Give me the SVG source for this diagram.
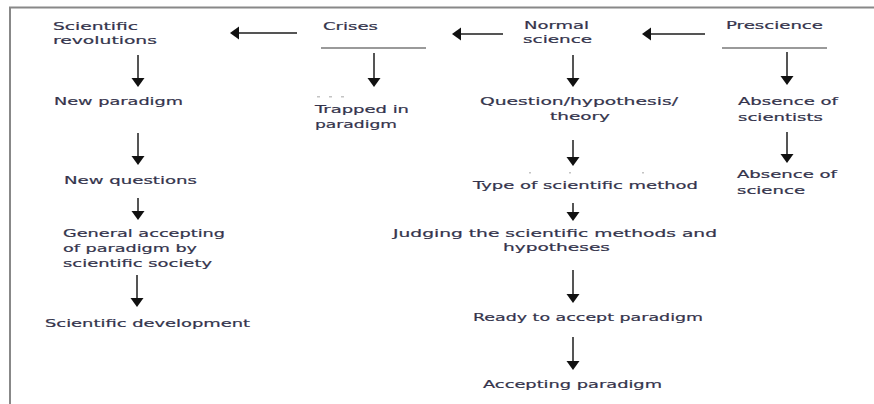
<svg xmlns="http://www.w3.org/2000/svg" width="874" height="404" viewBox="0 0 874 404">
<defs>
<marker id="ah" markerUnits="userSpaceOnUse" markerWidth="12" markerHeight="14" refX="3" refY="7" orient="auto">
<path d="M0,0.5 L9,7 L0,13.5 z" fill="#111"/>
</marker>
<style>
.t{font-family:"DejaVu Sans","Liberation Sans",sans-serif;font-size:11px;fill:#34344c;stroke:#34344c;stroke-width:0.2px}
.c line{stroke:#555;stroke-width:2;marker-end:url(#ah)}
.u{stroke:#9a9a9a;stroke-width:2}
.frame{stroke:#888;stroke-width:2;fill:none}
.dot{fill:#c4c4c4}
</style>
</defs>
<rect width="874" height="404" fill="#fff"/>
<path class="frame" d="M10,404 L10,7.5 L874,7.5"/>

<g id="scientific-revolutions"><text class="t" x="53" y="30" textLength="85" lengthAdjust="spacingAndGlyphs">Scientific</text><text class="t" x="53" y="44" textLength="104" lengthAdjust="spacingAndGlyphs">revolutions</text></g>
<g id="crises"><text class="t" x="323" y="30" textLength="55" lengthAdjust="spacingAndGlyphs">Crises</text><line class="u" x1="321" y1="48" x2="426" y2="48"/></g>
<g id="normal-science"><text class="t" x="524" y="29" textLength="65" lengthAdjust="spacingAndGlyphs">Normal</text><text class="t" x="523" y="43" textLength="69" lengthAdjust="spacingAndGlyphs">science</text></g>
<g id="prescience"><text class="t" x="726" y="29" textLength="97" lengthAdjust="spacingAndGlyphs">Prescience</text><line class="u" x1="722" y1="48" x2="827" y2="48"/></g>

<g id="new-paradigm"><text class="t" x="54" y="105" textLength="129" lengthAdjust="spacingAndGlyphs">New paradigm</text></g>
<g id="trapped"><rect class="dot" x="317" y="96" width="3" height="1.5"/><rect class="dot" x="329" y="96" width="3" height="1.5"/><rect class="dot" x="341" y="96" width="3" height="1.5"/><text class="t" x="315" y="113" textLength="94" lengthAdjust="spacingAndGlyphs">Trapped in</text><text class="t" x="315" y="128" textLength="82" lengthAdjust="spacingAndGlyphs">paradigm</text></g>
<g id="question"><text class="t" x="480" y="105" textLength="198" lengthAdjust="spacingAndGlyphs">Question/hypothesis/</text><text class="t" x="550" y="120" textLength="60" lengthAdjust="spacingAndGlyphs">theory</text></g>
<g id="absence-scientists"><text class="t" x="738" y="105" textLength="100" lengthAdjust="spacingAndGlyphs">Absence of</text><text class="t" x="738" y="121" textLength="85" lengthAdjust="spacingAndGlyphs">scientists</text></g>

<g id="new-questions"><text class="t" x="64" y="184" textLength="133" lengthAdjust="spacingAndGlyphs">New questions</text></g>
<g id="type-method"><rect class="dot" x="529" y="172" width="2" height="1.5"/><rect class="dot" x="569" y="172" width="2" height="1.5"/><rect class="dot" x="642" y="172" width="2" height="1.5"/><text class="t" x="473" y="189" textLength="225" lengthAdjust="spacingAndGlyphs">Type of scientific method</text></g>
<g id="absence-science"><text class="t" x="737" y="178" textLength="100" lengthAdjust="spacingAndGlyphs">Absence of</text><text class="t" x="737" y="194" textLength="68" lengthAdjust="spacingAndGlyphs">science</text></g>

<g id="general-accepting"><text class="t" x="63" y="237" textLength="162" lengthAdjust="spacingAndGlyphs">General accepting</text><text class="t" x="63" y="252" textLength="134" lengthAdjust="spacingAndGlyphs">of paradigm by</text><text class="t" x="63" y="267" textLength="149" lengthAdjust="spacingAndGlyphs">scientific society</text></g>
<g id="judging"><text class="t" x="393" y="237" textLength="324" lengthAdjust="spacingAndGlyphs">Judging the scientific methods and</text><text class="t" x="503" y="251" textLength="107" lengthAdjust="spacingAndGlyphs">hypotheses</text></g>

<g id="scientific-development"><text class="t" x="45" y="327" textLength="205" lengthAdjust="spacingAndGlyphs">Scientific development</text></g>
<g id="ready"><text class="t" x="473" y="321" textLength="230" lengthAdjust="spacingAndGlyphs">Ready to accept paradigm</text></g>
<g id="accepting"><text class="t" x="483" y="388" textLength="179" lengthAdjust="spacingAndGlyphs">Accepting paradigm</text></g>

<g id="connectors" class="c">
<line x1="297" y1="33" x2="236" y2="33"/>
<line x1="503" y1="34" x2="458" y2="34"/>
<line x1="705" y1="34" x2="648" y2="34"/>
<line x1="138" y1="55" x2="138" y2="81"/>
<line x1="138" y1="133" x2="138" y2="159"/>
<line x1="138" y1="198" x2="138" y2="214"/>
<line x1="137" y1="275" x2="137" y2="301"/>
<line x1="374" y1="53" x2="374" y2="81"/>
<line x1="573" y1="55" x2="573" y2="81"/>
<line x1="573" y1="140" x2="573" y2="160"/>
<line x1="573" y1="203" x2="573" y2="215"/>
<line x1="573" y1="270" x2="573" y2="297"/>
<line x1="573" y1="337" x2="573" y2="364"/>
<line x1="787" y1="52" x2="787" y2="79"/>
<line x1="787" y1="132" x2="787" y2="157"/>
</g>
</svg>
